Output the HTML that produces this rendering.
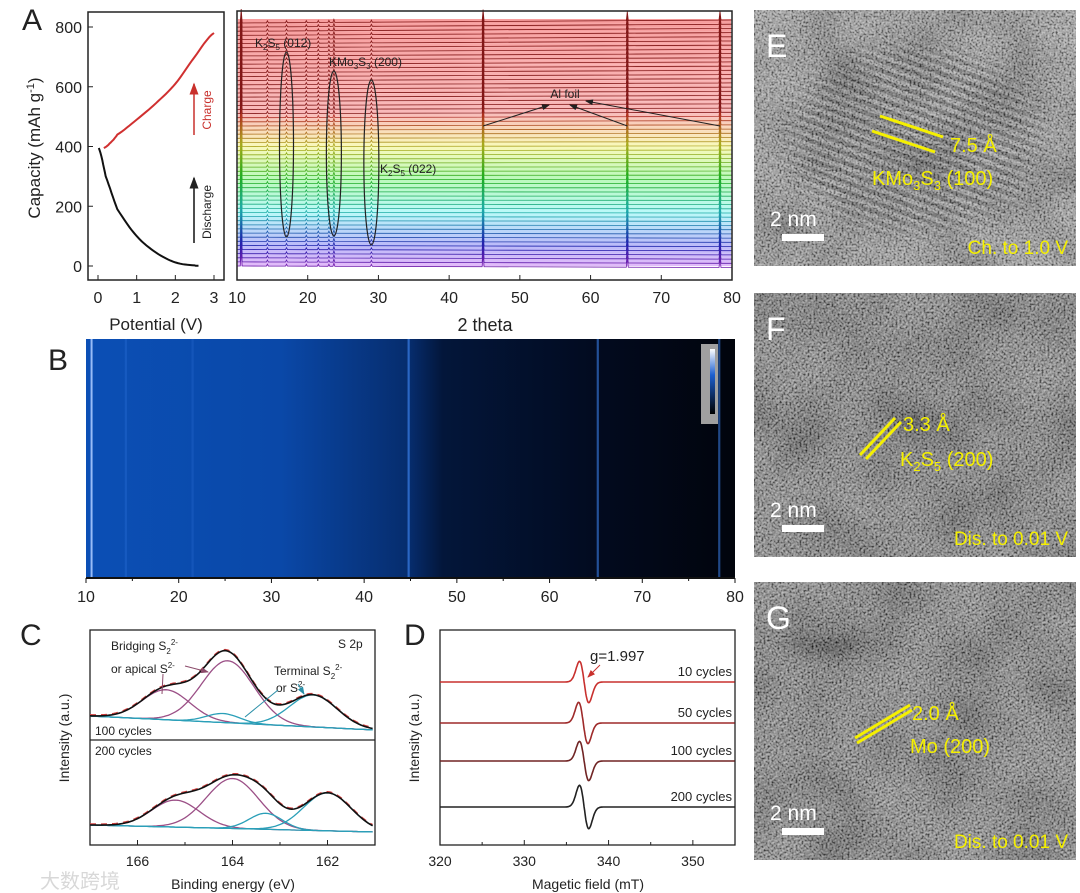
<!DOCTYPE html>
<html><head><meta charset="utf-8"><style>
html,body{margin:0;padding:0;background:#fff;width:1080px;height:893px;overflow:hidden;}
svg{display:block;font-family:"Liberation Sans","Noto Sans CJK SC",sans-serif;}
</style></head><body>
<svg id="fig" width="1080" height="893" viewBox="0 0 1080 893" xmlns="http://www.w3.org/2000/svg">
<defs>
<filter id="noise" x="0" y="0" width="100%" height="100%">
<feTurbulence type="fractalNoise" baseFrequency="0.5" numOctaves="2" seed="3"/>
<feColorMatrix type="matrix" values="2.2 0 0 0 -0.6  2.2 0 0 0 -0.6  2.2 0 0 0 -0.6  0 0 0 0 1"/>
</filter>
<filter id="blob" x="0" y="0" width="100%" height="100%">
<feTurbulence type="fractalNoise" baseFrequency="0.015" numOctaves="2" seed="7"/>
<feColorMatrix type="matrix" values="1.6 0 0 0 -0.3  1.6 0 0 0 -0.3  1.6 0 0 0 -0.3  0 0 0 0 1"/>
</filter>
<linearGradient id="bgrad" x1="0" x2="1" y1="0" y2="0">
<stop offset="0" stop-color="#0b4fb5"/><stop offset="0.3" stop-color="#0a48a8"/>
<stop offset="0.5" stop-color="#062c6c"/><stop offset="0.55" stop-color="#03163a"/>
<stop offset="0.8" stop-color="#020a1e"/><stop offset="1" stop-color="#01040c"/>
</linearGradient>
<linearGradient id="cbar" x1="0" x2="0" y1="0" y2="1"><stop offset="0" stop-color="#fff"/><stop offset="0.4" stop-color="#1d5fd0"/><stop offset="1" stop-color="#000"/></linearGradient>
<radialGradient id="fmask0g"><stop offset="0" stop-color="#fff"/><stop offset="0.7" stop-color="#fff"/><stop offset="1" stop-color="#000"/></radialGradient>
<mask id="fmask0"><ellipse cx="915" cy="140" rx="150" ry="110" fill="url(#fmask0g)"/></mask>
<marker id="ah" markerWidth="8" markerHeight="6" refX="7" refY="3" orient="auto"><path d="M0,0 L8,3 L0,6z" fill="#222"/></marker>
<marker id="ahr" markerWidth="8" markerHeight="6" refX="7" refY="3" orient="auto"><path d="M0,0 L8,3 L0,6z" fill="#c9302c"/></marker>
<marker id="ahm" markerWidth="8" markerHeight="6" refX="7" refY="3" orient="auto"><path d="M0,0 L8,3 L0,6z" fill="#8b4a6a"/></marker>
<marker id="ahc" markerWidth="8" markerHeight="6" refX="7" refY="3" orient="auto"><path d="M0,0 L8,3 L0,6z" fill="#2a8fa8"/></marker>
</defs>
<g id="root"></g>
</svg>
<script>
// ---------- data ----------
const dischargeV = [0.02, 0.2, 0.5, 1.0, 1.5, 2.0, 2.5, 2.6];
const dischargeC = [395, 300, 190, 100, 45, 12, 2, 1];
const chargeV = [0.15, 0.3, 0.5, 1.0, 1.5, 2.0, 2.5, 3.0];
const chargeC = [395, 410, 440, 490, 545, 610, 700, 780];
const capTicks = [0, 200, 400, 600, 800];
const potTicks = [0, 1, 2, 3];
const thetaTicks = [10, 20, 30, 40, 50, 60, 70, 80];
const xrdPeaks = [10.6, 14.3, 17.0, 19.8, 21.5, 23.0, 23.7, 29.0, 44.8, 65.2, 78.3];
const xrdPeakH = [14, 2, 2, 2, 2, 2, 3, 2, 12, 9, 9];
const xrdScanCount = 60;
const heatLines = [10.6, 14.3, 21.5, 44.8, 65.2, 78.3];
const heatLineI = [0.9, 0.25, 0.2, 0.7, 0.6, 0.55];
const xpsTicks = [166, 164, 162];
const xps100Centers = [165.4, 164.1, 164.2, 162.3];
const xps100Amps = [30, 62, 9, 32];
const xps200Centers = [165.2, 164.0, 163.3, 162.0];
const xps200Amps = [27, 50, 16, 38];
const xpsWidths = [0.5, 0.55, 0.35, 0.5];
const xpsTypes = ["m", "m", "c", "c"];
const eprTicks = [320, 330, 340, 350];
const eprLabels = ["10 cycles", "50 cycles", "100 cycles", "200 cycles"];
const eprAmps = [1.0, 1.0, 0.95, 1.05];
const eprCenter = [337.1, 337.0, 337.1, 337.1];

// ---------- helpers ----------
const NS = "http://www.w3.org/2000/svg";
const root = document.getElementById('root');
function mk(tag, at, parent) { const e = document.createElementNS(NS, tag); for (const k in at) e.setAttribute(k, at[k]); (parent || root).appendChild(e); return e; }
function txt(s, x, y, size, extra, parent) { const t = mk('text', Object.assign({ x: x, y: y, 'font-size': size, fill: '#222' }, extra || {}), parent); t.innerHTML = s; return t; }
function lin(d0, d1, r0, r1) { return v => r0 + (v - d0) * (r1 - r0) / (d1 - d0); }
function pathOf(xs, ys, fx, fy) { return xs.map((v, i) => (i ? 'L' : 'M') + fx(v).toFixed(1) + ',' + fy(ys[i]).toFixed(1)).join(''); }
function smooth(xs, ys, n) { const ox = [], oy = []; for (let i = 0; i < xs.length - 1; i++) { for (let k = 0; k < n; k++) { const t = k / n; const p0 = ys[Math.max(0, i - 1)], p1 = ys[i], p2 = ys[i + 1], p3 = ys[Math.min(ys.length - 1, i + 2)]; const v = 0.5 * ((2 * p1) + (-p0 + p2) * t + (2 * p0 - 5 * p1 + 4 * p2 - p3) * t * t + (-p0 + 3 * p1 - 3 * p2 + p3) * t * t * t); ox.push(xs[i] + (xs[i + 1] - xs[i]) * t); oy.push(v); } } ox.push(xs[xs.length - 1]); oy.push(ys[ys.length - 1]); return [ox, oy]; }

// ---------- Panel A left ----------
let g = mk('g', {});


txt('A', 22, 30, 30, {  }, g);
const ax = lin(0, 3, 98, 214), ay = lin(0, 800, 266, 27);
mk('rect', { x: 88, y: 12, width: 136, height: 268, fill: 'none', stroke: '#222', 'stroke-width': 1.5,  }, g);
capTicks.forEach(v => { mk('line', { x1: 88, x2: 93, y1: ay(v), y2: ay(v), stroke: '#222' }, g); txt(v, 82, ay(v) + 6, 16, { 'text-anchor': 'end',  }, g); });
potTicks.forEach(v => { mk('line', { x1: ax(v), x2: ax(v), y1: 280, y2: 275, stroke: '#222' }, g); txt(v, ax(v), 303, 16, { 'text-anchor': 'middle',  }, g); });
txt('Potential (V)', 156, 330, 17, { 'text-anchor': 'middle',  }, g);
txt('Capacity (mAh g<tspan dy="-6" font-size="11">-1</tspan><tspan dy="6">)</tspan>', 0, 0, 17, { transform: 'translate(40,148) rotate(-90)', 'text-anchor': 'middle',  }, g);
let s = smooth(dischargeV, dischargeC, 8);
mk('path', { d: pathOf(s[0], s[1], ax, ay), fill: 'none', stroke: '#111', 'stroke-width': 2,  }, g);
s = smooth(chargeV, chargeC, 8);
mk('path', { d: pathOf(s[0], s[1], ax, ay), fill: 'none', stroke: '#d03030', 'stroke-width': 2,  }, g);
mk('line', { x1: 194, x2: 194, y1: 135, y2: 84, stroke: '#c9302c', 'stroke-width': 1.5, 'marker-end': 'url(#ahr)' }, g);
txt('Charge', 0, 0, 12, { transform: 'translate(211,110) rotate(-90)', 'text-anchor': 'middle', fill: '#c9302c',  }, g);
mk('line', { x1: 194, x2: 194, y1: 243, y2: 178, stroke: '#111', 'stroke-width': 1.5, 'marker-end': 'url(#ah)' }, g);
txt('Discharge', 0, 0, 12, { transform: 'translate(211,212) rotate(-90)', 'text-anchor': 'middle',  }, g);

// ---------- Panel A right XRD ----------
g = mk('g', {});


const tx = lin(10, 80, 237, 732);
const scanTop = 23, scanBot = 266;
for (let i = 0; i < xrdScanCount; i++) {
  const t = i / (xrdScanCount - 1);
  const y = scanBot - t * (scanBot - scanTop);
  const hue = t < 0.62 ? 275 - 275 * (t / 0.62) : 0;
  const light = t < 0.62 ? 82 : 82 - (t - 0.62) * 20;
  mk('rect', { x: 238, y: y - 4, width: 493, height: 4.1, fill: 'hsl(' + hue + ',85%,' + light + '%)', opacity: 0.8 }, g);
}
for (let i = 0; i < xrdScanCount; i++) {
  const t = i / (xrdScanCount - 1);
  const y0 = scanBot - t * (scanBot - scanTop);
  const hue = t < 0.62 ? 275 - 275 * (t / 0.62) : 0;
  const y1 = y0 + 1.5 * (1 - t) - 3 * t;
  let d = 'M' + tx(10) + ',' + y0.toFixed(1);
  xrdPeaks.forEach((p, k) => {
    const yy = y0 + (y1 - y0) * (p - 10) / 70;
    d += 'L' + (tx(p) - 1).toFixed(1) + ',' + yy.toFixed(1) + 'L' + tx(p).toFixed(1) + ',' + (yy - xrdPeakH[k]).toFixed(1) + 'L' + (tx(p) + 1).toFixed(1) + ',' + yy.toFixed(1);
  });
  d += 'L' + tx(80) + ',' + y1.toFixed(1);
  const p = mk('path', { d: d, fill: 'none', stroke: 'hsl(' + hue + ',70%,' + (t < 0.62 ? 40 : 30) + '%)', 'stroke-width': 0.8 }, g);
  
  
}
mk('rect', { x: 237, y: 11, width: 495, height: 269, fill: 'none', stroke: '#222', 'stroke-width': 1.5,  }, g);
thetaTicks.forEach(v => { mk('line', { x1: tx(v), x2: tx(v), y1: 280, y2: 275, stroke: '#222' }, g); txt(v, tx(v), 303, 16, { 'text-anchor': 'middle',  }, g); });
txt('2 theta', 485, 331, 18, { 'text-anchor': 'middle',  }, g);
[[17.0, 52, 237, 7], [23.7, 71, 236, 7.5], [29.0, 80, 245, 7.5]].forEach(e => mk('ellipse', { cx: tx(e[0]), cy: (e[1] + e[2]) / 2, rx: e[3], ry: (e[2] - e[1]) / 2, fill: 'none', stroke: '#222', 'stroke-width': 1.2,  }, g));
txt('K<tspan font-size="8" dy="3">2</tspan><tspan dy="-3">S</tspan><tspan font-size="8" dy="3">5</tspan><tspan dy="-3"> (012)</tspan>', 255, 47, 12, {  }, g);
txt('KMo<tspan font-size="8" dy="3">3</tspan><tspan dy="-3">S</tspan><tspan font-size="8" dy="3">3</tspan><tspan dy="-3"> (200)</tspan>', 329, 66, 12, {  }, g);
txt('K<tspan font-size="8" dy="3">2</tspan><tspan dy="-3">S</tspan><tspan font-size="8" dy="3">5</tspan><tspan dy="-3"> (022)</tspan>', 380, 173, 12, {  }, g);
txt('Al foil', 565, 98, 12, { 'text-anchor': 'middle',  }, g);
[[tx(44.8), 126, 549, 105], [tx(65.2), 126, 570, 105], [tx(78.3), 126, 586, 101]].forEach(a => mk('line', { x1: a[0], y1: a[1], x2: a[2], y2: a[3], stroke: '#222', 'stroke-width': 1, 'marker-end': 'url(#ah)' }, g));

// ---------- Panel B heatmap ----------
g = mk('g', {});


txt('B', 48, 370, 30, {  }, g);
const bx = lin(10, 80, 86, 735);
mk('rect', { x: 86, y: 339, width: 649, height: 239, fill: 'url(#bgrad)',  }, g);
heatLines.forEach((v, i) => {
  const l = mk('line', { x1: bx(v), x2: bx(v), y1: 339, y2: 578, stroke: i === 0 ? '#a8c8ff' : '#3a7fe8', 'stroke-width': i === 0 ? 2 : 2.2, opacity: heatLineI[i] }, g);
  
  
});
mk('rect', { x: 701, y: 344, width: 17, height: 80, fill: '#a0a0a0',  }, g);
mk('rect', { x: 710, y: 349, width: 5, height: 65, fill: 'url(#cbar)',  }, g);
mk('line', { x1: 86, x2: 735, y1: 578, y2: 578, stroke: '#111', 'stroke-width': 2 }, g);
thetaTicks.forEach(v => { mk('line', { x1: bx(v), x2: bx(v), y1: 578, y2: 583, stroke: '#111' }, g); txt(v, bx(v), 602, 16, { 'text-anchor': 'middle',  }, g); });
for (let v = 15; v < 80; v += 10) mk('line', { x1: bx(v), x2: bx(v), y1: 578, y2: 581, stroke: '#111' }, g);

// ---------- Panel C XPS ----------
g = mk('g', {});


txt('C', 20, 645, 30, {  }, g);
const cx = lin(167, 161, 90, 375);
mk('rect', { x: 90, y: 630, width: 285, height: 215, fill: 'none', stroke: '#222', 'stroke-width': 1.3,  }, g);
mk('line', { x1: 90, x2: 375, y1: 740, y2: 740, stroke: '#222', 'stroke-width': 1.3 }, g);
function xps(centers, amps, base0, base1, pre) {
  const xs = []; for (let e = 167; e >= 161; e -= 0.05) xs.push(e);
  const base = e => base0 + (base1 - base0) * (167 - e) / 6;
  const comps = centers.map((c, k) => xs.map(e => amps[k] * Math.exp(-Math.pow(e - c, 2) / (2 * xpsWidths[k] * xpsWidths[k]))));
  comps.forEach((cv, k) => {
    const p = mk('path', { d: pathOf(xs, xs.map((e, j) => base(e) - cv[j]), cx, v => v), fill: 'none', stroke: xpsTypes[k] === 'm' ? '#9b4f86' : '#2a9fb8', 'stroke-width': 1.3 }, g);
    
    
  });
  mk('path', { d: pathOf(xs, xs.map(e => base(e)), cx, v => v), fill: 'none', stroke: '#2a9fb8', 'stroke-width': 1.3 }, g);
  const sum = xs.map((e, j) => base(e) - comps.reduce((a, c) => a + c[j], 0));
  mk('path', { d: pathOf(xs, sum, cx, v => v), fill: 'none', stroke: '#d04040', 'stroke-width': 1.5, 'stroke-dasharray': '6 5', transform: 'translate(0,-1)' }, g);
  const p = mk('path', { d: pathOf(xs, sum, cx, v => v), fill: 'none', stroke: '#111', 'stroke-width': 1.6 }, g);
  
  
}
xps(xps100Centers, xps100Amps, 716, 730, 'xps-100');
xps(xps200Centers, xps200Amps, 825, 832, 'xps-200');
xpsTicks.forEach(v => { mk('line', { x1: cx(v), x2: cx(v), y1: 845, y2: 840, stroke: '#222' }, g); txt(v, cx(v), 866, 14, { 'text-anchor': 'middle',  }, g); });
[165, 163].forEach(v => mk('line', { x1: cx(v), x2: cx(v), y1: 845, y2: 842, stroke: '#222' }, g));
txt('Binding energy (eV)', 233, 889, 14, { 'text-anchor': 'middle',  }, g);
txt('Intensity (a.u.)', 0, 0, 14, { transform: 'translate(69,738) rotate(-90)', 'text-anchor': 'middle',  }, g);
txt('S 2p', 338, 648, 12, {  }, g);
txt('Bridging S<tspan font-size="8" dy="4">2</tspan><tspan font-size="8" dy="-9">2-</tspan>', 111, 650, 12, {  }, g);
txt('or apical S<tspan font-size="8" dy="-5">2-</tspan>', 111, 673, 12, {  }, g);
txt('Terminal S<tspan font-size="8" dy="4">2</tspan><tspan font-size="8" dy="-9">2-</tspan>', 274, 675, 12, {  }, g);
txt('or S<tspan font-size="8" dy="-5">2-</tspan>', 276, 692, 12, {  }, g);
mk('line', { x1: 185, y1: 666, x2: 208, y2: 672, stroke: '#8b4a6a', 'marker-end': 'url(#ahm)' }, g);
mk('line', { x1: 163, y1: 674, x2: 162, y2: 694, stroke: '#8b4a6a' }, g);
mk('line', { x1: 298, y1: 684, x2: 304, y2: 694, stroke: '#2a8fa8', 'marker-end': 'url(#ahc)' }, g);
mk('line', { x1: 278, y1: 690, x2: 245, y2: 717, stroke: '#2a8fa8' }, g);
txt('100 cycles', 95, 735, 12, {  }, g);
txt('200 cycles', 95, 755, 12, {  }, g);
txt('大数跨境', 40, 888, 20, { fill: '#d8d8d8',  }, g);

// ---------- Panel D EPR ----------
g = mk('g', {});


txt('D', 404, 645, 30, {  }, g);
const dx = lin(320, 355, 440, 735);
const eprBase = [682, 723, 761, 807];
const eprColors = ['#c8302e', '#9e2a2a', '#702424', '#222'];
mk('rect', { x: 440, y: 630, width: 295, height: 215, fill: 'none', stroke: '#222', 'stroke-width': 1.3,  }, g);
eprLabels.forEach((lab, i) => {
  const xs = []; for (let b = 320; b <= 355; b += 0.05) xs.push(b);
  const w = 0.55, c = eprCenter[i];
  const ys = xs.map(b => eprBase[i] + eprAmps[i] * 34 * ((b - c) / w) * Math.exp(-Math.pow((b - c) / w, 2) / 2));
  const p = mk('path', { d: pathOf(xs, ys, dx, v => v), fill: 'none', stroke: eprColors[i], 'stroke-width': 1.6 }, g);
  
  
  txt(lab, 732, eprBase[i] - 6, 13, { 'text-anchor': 'end',  }, g);
});
eprTicks.forEach(v => { mk('line', { x1: dx(v), x2: dx(v), y1: 845, y2: 840, stroke: '#222' }, g); txt(v, dx(v), 866, 14, { 'text-anchor': 'middle',  }, g); });
[325, 335, 345].forEach(v => mk('line', { x1: dx(v), x2: dx(v), y1: 845, y2: 842, stroke: '#222' }, g));
txt('Magetic field (mT)', 588, 889, 14, { 'text-anchor': 'middle',  }, g);
txt('Intensity (a.u.)', 0, 0, 14, { transform: 'translate(419,738) rotate(-90)', 'text-anchor': 'middle',  }, g);
txt('g=1.997', 590, 661, 15, {  }, g);
mk('line', { x1: 600, y1: 665, x2: 588, y2: 677, stroke: '#c8302e', 'marker-end': 'url(#ahr)' }, g);

// ---------- TEM panels ----------
const tems = [
  { y: 10, h: 256, L: 'E', base: '#6e6e6e', fo: 0.5, mask: 'url(#fmask0)', d: '7.5 Å', hkl: 'KMo<tspan font-size="13" dy="5">3</tspan><tspan dy="-5">S</tspan><tspan font-size="13" dy="5">3</tspan><tspan dy="-5"> (100)</tspan>', cond: 'Ch. to  1.0 V', lines: [[880, 116, 943, 137], [872, 131, 935, 152]], dx: 950, dy: 152, hx: 872, hy: 185, sp: 9, rot: 20 },
  { y: 293, h: 264, L: 'F', base: '#4e4e4e', fo: 0.25, mask: '', d: '3.3 Å', hkl: 'K<tspan font-size="13" dy="5">2</tspan><tspan dy="-5">S</tspan><tspan font-size="13" dy="5">5</tspan><tspan dy="-5"> (200)</tspan>', cond: 'Dis. to 0.01 V', lines: [[860, 455, 895, 418], [866, 459, 901, 422]], dx: 903, dy: 431, hx: 900, hy: 466, sp: 4, rot: -45 },
  { y: 582, h: 278, L: 'G', base: '#555', fo: 0.25, mask: '', d: '2.0 Å', hkl: 'Mo (200)', cond: 'Dis. to 0.01 V', lines: [[855, 738, 910, 705], [857, 743, 912, 710]], dx: 912, dy: 720, hx: 910, hy: 753, sp: 4, rot: -30 }
];
tems.forEach((t, i) => {
  const tg = mk('g', {});
  
  
  const cp = mk('clipPath', { id: 'cp' + i }, tg);
  mk('rect', { x: 754, y: t.y, width: 322, height: t.h }, cp);
  const inner = mk('g', { 'clip-path': 'url(#cp' + i + ')' }, tg);
  mk('rect', { x: 754, y: t.y, width: 322, height: t.h, fill: t.base }, inner);
  mk('rect', { x: 754, y: t.y, width: 322, height: t.h, filter: 'url(#blob)', opacity: 0.35 }, inner);
  const mg = mk('g', t.mask ? { mask: t.mask } : {}, inner);
  const fr = mk('g', { transform: 'rotate(' + t.rot + ' 915 ' + (t.y + t.h / 2) + ')', opacity: t.fo }, mg);
  for (let k = -60; k < 60; k++) mk('rect', { x: 700, y: t.y + t.h / 2 + k * t.sp, width: 430, height: t.sp / 2, fill: '#111' }, fr);
  mk('rect', { x: 754, y: t.y, width: 322, height: t.h, filter: 'url(#noise)', opacity: 0.45 }, inner);
  txt(t.L, 766, t.y + 47, 32, { fill: '#fff',  }, tg);
  t.lines.forEach(l => mk('line', { x1: l[0], y1: l[1], x2: l[2], y2: l[3], stroke: '#f5f000', 'stroke-width': 3 }, tg));
  txt(t.d, t.dx, t.dy, 20, { fill: '#f5f000',  }, tg);
  txt(t.hkl, t.hx, t.hy, 20, { fill: '#f5f000',  }, tg);
  txt('2 nm', 770, t.y + t.h - 40, 21, { fill: '#fff',  }, tg);
  mk('rect', { x: 782, y: t.y + t.h - 32, width: 42, height: 7, fill: '#fff',  }, tg);
  txt(t.cond, 1068, t.y + t.h - 12, 19, { fill: '#f5f000', 'text-anchor': 'end',  }, tg);
});
</script>
</body></html>
